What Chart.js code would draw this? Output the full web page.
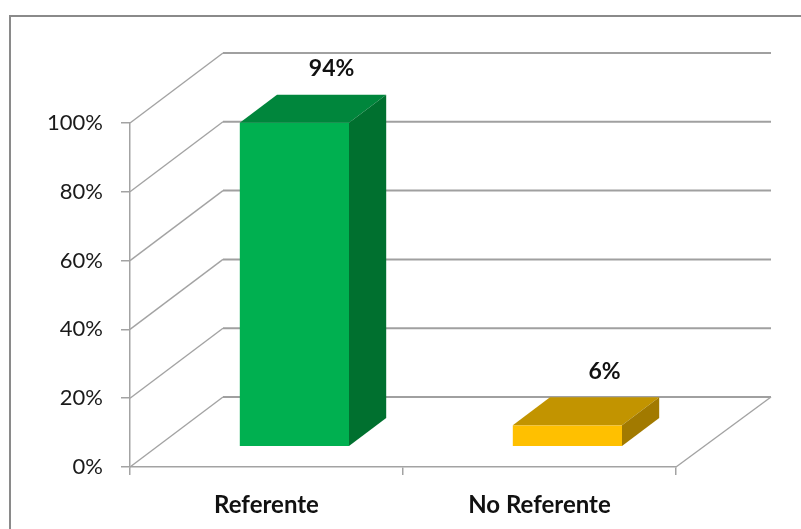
<!DOCTYPE html>
<html>
<head>
<meta charset="utf-8">
<script src="https://cdn.jsdelivr.net/npm/chart.js@4/dist/chart.umd.min.js"></script>
<style>
  html, body { margin: 0; padding: 0; background: #ffffff; }
  canvas { display: block; }
</style>
</head>
<body>
<canvas id="chart" width="801" height="529"></canvas>
<script>
// Categories and values (percent)
const categories = ['Referente', 'No Referente'];
const values = [94, 6];
const yTickValues = [0, 20, 40, 60, 80, 100];

// Face colours for each box: front, top, side
const frontColors = ['#00b050', '#ffc000'];
const topColors = ['#00863c', '#c29400'];
const sideColors = ['#00702f', '#a27a00'];

// Oblique depth vector of the 3D floor/walls (pixels)
const DEPTH_X = 93;
const DEPTH_Y = -70;
// Box occupies this slice of the depth
const BOX_D0 = 0.3;
const BOX_D1 = 0.7;

const GRID = '#a3a3a3';
const FONT = 'Lato, "Open Sans", sans-serif';

const frame3d = {
  id: 'frame3d',
  beforeDraw(chart) {
    const ctx = chart.ctx;
    ctx.save();
    ctx.fillStyle = '#ffffff';
    ctx.fillRect(0, 0, chart.width, chart.height);
    // outer chart border
    ctx.strokeStyle = '#8a8a8a';
    ctx.lineWidth = 2;
    ctx.strokeRect(10, 16, chart.width + 20, chart.height + 20);
    ctx.restore();
  },
  beforeDatasetsDraw(chart) {
    const ctx = chart.ctx;
    const ya = chart.scales.y;
    const { left, right, bottom } = chart.chartArea;
    ctx.save();
    ctx.lineCap = 'butt';
    yTickValues.forEach(v => {
      const y = ya.getPixelForValue(v);
      // side wall diagonal
      ctx.strokeStyle = GRID;
      ctx.lineWidth = 1.4;
      ctx.beginPath();
      ctx.moveTo(left, y);
      ctx.lineTo(left + DEPTH_X, y + DEPTH_Y);
      ctx.stroke();
      // back wall line
      ctx.lineWidth = 2;
      ctx.strokeStyle = '#a0a0a0';
      ctx.beginPath();
      ctx.moveTo(left + DEPTH_X, y + DEPTH_Y);
      ctx.lineTo(right + DEPTH_X + 2, y + DEPTH_Y);
      ctx.stroke();
    });
    // right floor edge
    ctx.strokeStyle = GRID;
    ctx.lineWidth = 1.4;
    ctx.beginPath();
    ctx.moveTo(right, bottom);
    ctx.lineTo(right + DEPTH_X + 2, bottom + DEPTH_Y);
    ctx.stroke();
    ctx.restore();
  },
  afterDatasetsDraw(chart) {
    const ctx = chart.ctx;
    const ya = chart.scales.y;
    const meta = chart.getDatasetMeta(0);
    const ddx = (BOX_D1 - BOX_D0) * DEPTH_X;
    const ddy = (BOX_D1 - BOX_D0) * DEPTH_Y;
    const ox = BOX_D0 * DEPTH_X;
    const oy = BOX_D0 * DEPTH_Y;
    ctx.save();
    meta.data.forEach((bar, i) => {
      const x0 = bar.x - bar.width / 2 + ox;
      const x1 = bar.x + bar.width / 2 + ox;
      const yt = ya.getPixelForValue(values[i]) + oy;
      const yb = ya.getPixelForValue(0) + oy;
      // front face
      ctx.fillStyle = frontColors[i];
      ctx.fillRect(x0, yt, x1 - x0, yb - yt);
      // top face
      ctx.fillStyle = topColors[i];
      ctx.beginPath();
      ctx.moveTo(x0, yt);
      ctx.lineTo(x0 + ddx, yt + ddy);
      ctx.lineTo(x1 + ddx, yt + ddy);
      ctx.lineTo(x1, yt);
      ctx.closePath();
      ctx.fill();
      // side face
      ctx.fillStyle = sideColors[i];
      ctx.beginPath();
      ctx.moveTo(x1, yt);
      ctx.lineTo(x1 + ddx, yt + ddy);
      ctx.lineTo(x1 + ddx, yb + ddy);
      ctx.lineTo(x1, yb);
      ctx.closePath();
      ctx.fill();
      // value label above the box
      ctx.fillStyle = '#111111';
      ctx.font = 'bold 23px ' + FONT;
      ctx.textAlign = 'center';
      ctx.textBaseline = 'middle';
      ctx.fillText(values[i] + '%', (x0 + x1) / 2 + ddx, yt + ddy - 26);
    });
    ctx.restore();
  }
};

new Chart(document.getElementById('chart'), {
  type: 'bar',
  data: {
    labels: categories,
    datasets: [{
      data: values,
      backgroundColor: 'rgba(0,0,0,0)',
      borderWidth: 0,
      categoryPercentage: 1,
      barPercentage: 0.4
    }]
  },
  options: {
    responsive: false,
    animation: false,
    devicePixelRatio: 1,
    layout: { padding: { left: 0, top: 123, right: 125, bottom: 0 } },
    plugins: {
      legend: { display: false },
      tooltip: { enabled: false }
    },
    scales: {
      x: {
        afterFit(scale) { scale.height = 62; },
        grid: {
          offset: true,
          drawOnChartArea: false,
          drawTicks: true,
          tickLength: 8,
          color: GRID,
          lineWidth: 1.5
        },
        border: { display: true, color: GRID, width: 1.5 },
        ticks: {
          color: '#111111',
          padding: 16,
          font: { family: FONT, size: 24, weight: 'bold' }
        }
      },
      y: {
        min: 0,
        max: 100,
        afterFit(scale) { scale.width = 130; },
        afterBuildTicks(scale) {
          scale.ticks = yTickValues.map(v => ({ value: v }));
        },
        grid: {
          drawOnChartArea: false,
          drawTicks: true,
          tickLength: 9,
          color: GRID,
          lineWidth: 1.5
        },
        border: { display: true, color: GRID, width: 1.5 },
        ticks: {
          color: '#1a1a1a',
          padding: 18,
          font: { family: FONT, size: 22 },
          callback: v => v + '%'
        }
      }
    }
  },
  plugins: [frame3d]
});
</script>
</body>
</html>
